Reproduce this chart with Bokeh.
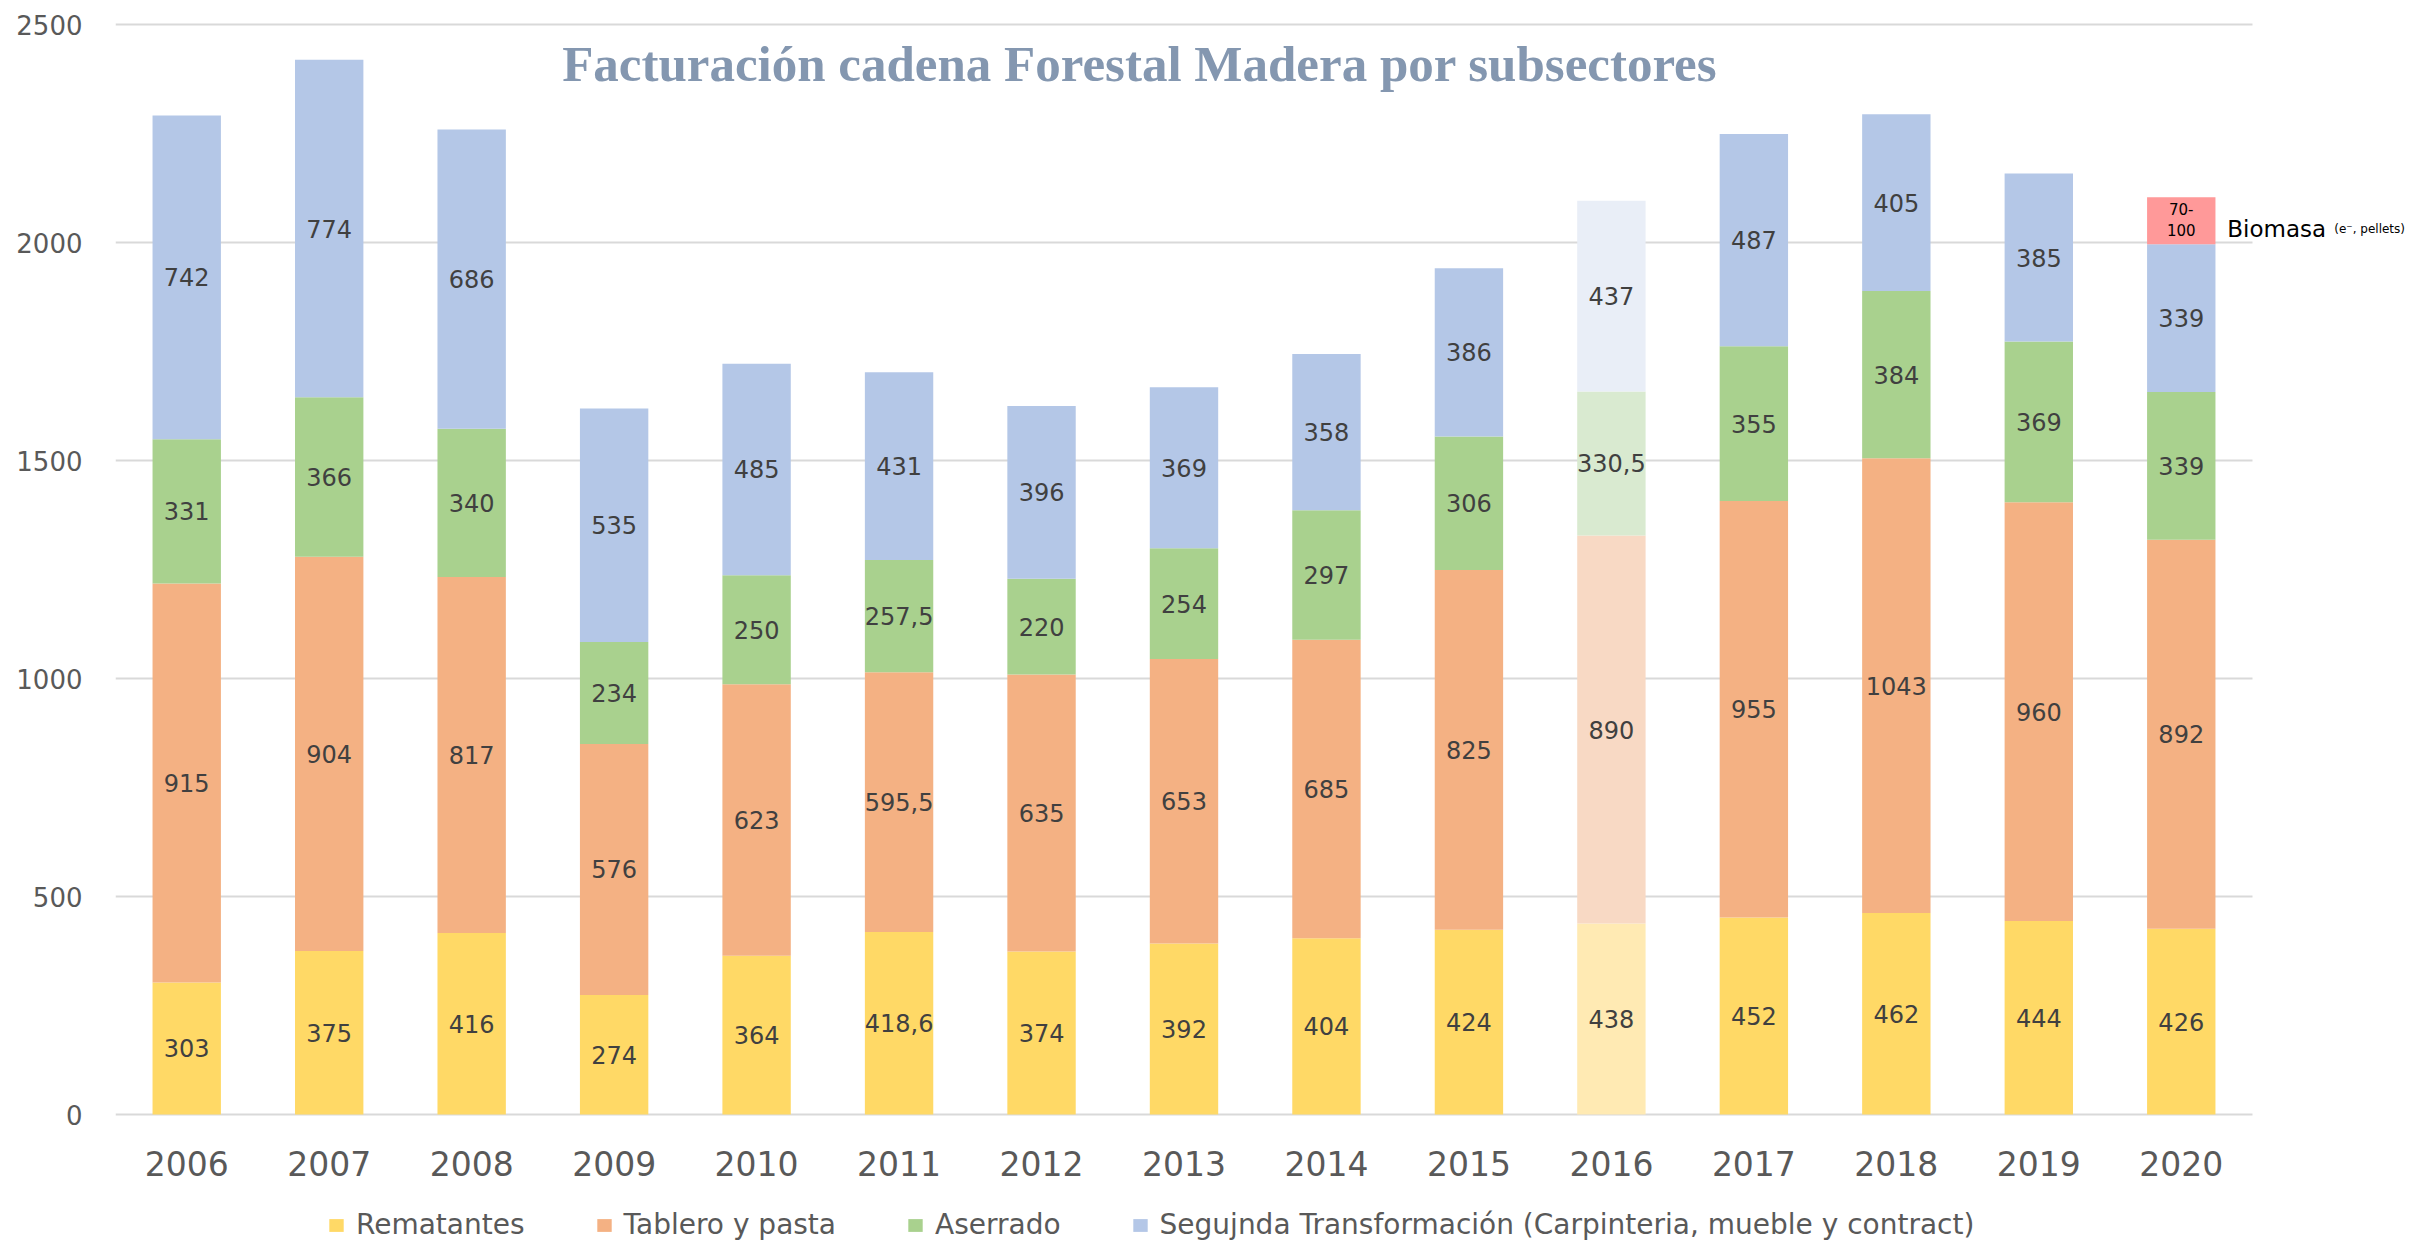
from bokeh.plotting import figure
from bokeh.models import (Range1d, ColumnDataSource, Legend, LegendItem, Label,
                          FixedTicker)
from bokeh.core.properties import value
from bokeh.embed import file_html
from bokeh.resources import INLINE

years = ["2006", "2007", "2008", "2009", "2010", "2011", "2012", "2013",
         "2014", "2015", "2016", "2017", "2018", "2019", "2020"]
rematantes = [303, 375, 416, 274, 364, 418.6, 374, 392, 404, 424, 438, 452, 462, 444, 426]
tablero = [915, 904, 817, 576, 623, 595.5, 635, 653, 685, 825, 890, 955, 1043, 960, 892]
aserrado = [331, 366, 340, 234, 250, 257.5, 220, 254, 297, 306, 330.5, 355, 384, 369, 339]
segunda = [742, 774, 686, 535, 485, 431, 396, 369, 358, 386, 437, 487, 405, 385, 339]
series_names = ["Rematantes", "Tablero y pasta", "Aserrado",
                "Segujnda Transformación (Carpinteria, mueble y contract)"]
estimated_year = "2016"
biomasa_year = "2020"
biomasa_value = 108
biomasa_label = "70-\n100"
y_ticks = [0, 500, 1000, 1500, 2000, 2500]
title_text = "Facturación cadena Forestal Madera por subsectores"

colors = ["#FFD966", "#F4B183", "#A9D18E", "#B4C7E7"]
faded = ["#FFEAB3", "#F8D9C4", "#D9EAD0", "#E9EEF7"]

W, H = 2410, 1242
LEFT = 115            # frame left (px)
TOP_PAD = 24          # px from figure top to the 2500 line
ZERO_Y = 1114         # px from figure top to the 0 line
CAT_W = 2137 / 15     # px per category
ppu = (ZERO_Y - TOP_PAD) / 2500.0
y_start = -(H - ZERO_Y) / ppu
y_end = 2500 + TOP_PAD / ppu
x_end = (W - LEFT) / CAT_W

p = figure(x_range=Range1d(0, x_end), y_range=Range1d(y_start, y_end),
           width=W, height=H, output_backend="svg", toolbar_location=None,
           min_border_left=LEFT, min_border_right=0, min_border_top=0,
           min_border_bottom=0)
p.outline_line_color = None
p.background_fill_color = "white"
p.border_fill_color = "white"
p.xgrid.grid_line_color = None
p.ygrid.grid_line_color = None

xpos = [i + 0.5 for i in range(len(years))]

# horizontal gridlines across the category area
p.segment(x0=[0] * len(y_ticks), x1=[len(years)] * len(y_ticks), y0=y_ticks, y1=y_ticks,
          line_color="#D9D9D9", line_width=2)

p.yaxis.ticker = FixedTicker(ticks=y_ticks)
p.yaxis.axis_line_color = None
p.yaxis.major_tick_line_color = None
p.yaxis.minor_tick_line_color = None
p.yaxis.major_tick_out = 0
p.yaxis.major_tick_in = 0
p.yaxis.major_label_standoff = 33
p.yaxis.major_label_text_font = "DejaVu Sans"
p.yaxis.major_label_text_font_size = "26px"
p.yaxis.major_label_text_color = "#595959"

p.xaxis.fixed_location = 0
p.xaxis.ticker = FixedTicker(ticks=xpos)
p.xaxis.major_label_overrides = {x: y for x, y in zip(xpos, years)}
p.xaxis.axis_line_color = None
p.xaxis.major_tick_line_color = None
p.xaxis.minor_tick_line_color = None
p.xaxis.major_tick_out = 0
p.xaxis.major_tick_in = 0
p.xaxis.major_label_standoff = 36
p.xaxis.major_label_text_font = "DejaVu Sans"
p.xaxis.major_label_text_font_size = "33px"
p.xaxis.major_label_text_color = "#595959"


def fmt(v):
    return ("%g" % v).replace(".", ",")


series = [rematantes, tablero, aserrado, segunda]
bottom = [0.0] * len(years)
renderers = []
lab_x, lab_y, lab_t = [], [], []
for i, vals in enumerate(series):
    top = [b + v for b, v in zip(bottom, vals)]
    cols = [faded[i] if y == estimated_year else colors[i] for y in years]
    src = ColumnDataSource(dict(x=xpos, bottom=bottom, top=top, color=cols))
    r = p.vbar(x="x", bottom="bottom", top="top", width=0.48, source=src,
               fill_color="color", line_color=None)
    renderers.append(r)
    for x, b, v in zip(xpos, bottom, vals):
        lab_x.append(x)
        lab_y.append(b + v / 2)
        lab_t.append(fmt(v))
    bottom = top

p.text(x=lab_x, y=lab_y, text=lab_t, text_align="center", text_baseline="middle",
       text_font=value("DejaVu Sans"), text_font_size="24px", text_color="#404040")

# Biomasa segment
bidx = years.index(biomasa_year)
bx = xpos[bidx]
bbottom = bottom[bidx]
p.vbar(x=[bx], bottom=[bbottom], top=[bbottom + biomasa_value], width=0.48,
       fill_color="#FF9999", line_color=None)
p.text(x=[bx], y=[bbottom + biomasa_value / 2], text=[biomasa_label],
       text_align="center", text_baseline="middle", text_font=value("DejaVu Sans"),
       text_font_size="15px", text_color="#000000", text_line_height=1.2)

p.add_layout(Label(x=bx, y=bbottom + 34, x_offset=46, text="Biomasa",
                   text_font="DejaVu Sans", text_font_size="23px", text_color="#000000",
                   text_baseline="alphabetic"))
p.add_layout(Label(x=bx, y=bbottom + 34, x_offset=153, text="(e\u207b, pellets)",
                   text_font="DejaVu Sans", text_font_size="12px", text_color="#000000",
                   text_baseline="alphabetic"))

# Title
p.add_layout(Label(x=7.19, y=2410, text=title_text, text_align="center",
                   text_baseline="alphabetic", text_font="Liberation Serif",
                   text_font_style="bold", text_font_size="51px", text_color="#8497B0"))

legend = Legend(items=[LegendItem(label=n, renderers=[r], index=0)
                       for n, r in zip(series_names, renderers)],
                orientation="horizontal", location=(212, 1))
legend.padding = 0
legend.margin = 0
legend.spacing = 70
legend.glyph_width = 18
legend.glyph_height = 16
legend.label_standoff = 11
legend.label_height = 16
legend.label_text_font = "DejaVu Sans"
legend.label_text_font_size = "28px"
legend.label_text_color = "#595959"
legend.border_line_color = None
legend.background_fill_alpha = 0
p.add_layout(legend, "center")

open("out.html", "w").write(file_html(p, INLINE))
